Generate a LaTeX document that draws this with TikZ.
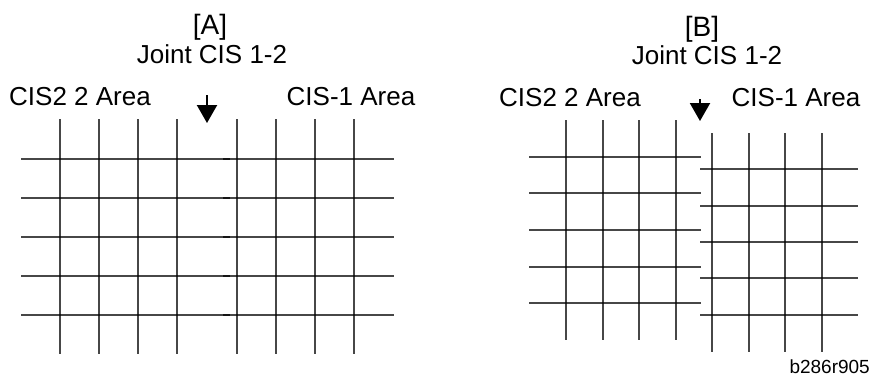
\documentclass[tikz,border=0pt]{standalone}
\usepackage{fontspec}
\setmainfont{Liberation Sans}
\usetikzlibrary{arrows.meta,positioning}

\begin{document}
\begin{tikzpicture}[
    x=1pt, y=-1pt,
    lbl/.style={inner sep=0pt, anchor=base, font=\fontsize{26}{29}\selectfont},
    ttl/.style={inner sep=0pt, anchor=base, font=\fontsize{28}{31}\selectfont},
    gridline/.style={draw=black, draw opacity=0.72, line width=1.7pt},
    joint/.style={-{Triangle[width=20pt, length=18pt]}, line width=2.2pt}
]
\useasboundingbox (0,0) rectangle (873,378);

% Panel A: titles
\node[ttl] (titleA) at (210,34) {[A]};
\node[lbl] (jointA) at (212,63) {Joint CIS 1-2};
\node[lbl] (leftA) at (80,105) {CIS2 2 Area};
\node[lbl] (rightA) at (351,105) {CIS-1 Area};

% Panel A: CIS2 area grid
\foreach \x in {60,99,138,177}
    \draw[gridline] (\x,119) -- (\x,354);
\foreach \y in {159,198,237,276,315}
    \draw[gridline] (21,\y) -- (230,\y);

% Panel A: CIS-1 area grid
\foreach \x in {237,276,315,354}
    \draw[gridline] (\x,119) -- (\x,354);
\foreach \y in {159,198,237,276,315}
    \draw[gridline] (223,\y) -- (394,\y);

% Panel B: titles
\node[ttl] (titleB) at (702,36) {[B]};
\node[lbl] (jointB) at (707,64) {Joint CIS 1-2};
\node[lbl] (leftB) at (570,106) {CIS2 2 Area};
\node[lbl] (rightB) at (796,106) {CIS-1 Area};

% Panel B: CIS2 area grid
\foreach \x in {566,603,639,676}
    \draw[gridline] (\x,120) -- (\x,340);
\foreach \y in {157,193,230,267,303}
    \draw[gridline] (529,\y) -- (701,\y);

% Panel B: CIS-1 area grid (shifted down)
\foreach \x in {712,749,785,822}
    \draw[gridline] (\x,133) -- (\x,352);
\foreach \y in {169,206,242,278,315}
    \draw[gridline] (700,\y) -- (858,\y);

% Joint arrows
\coordinate (jointTopA) at (207,95);
\coordinate (jointTipA) at (207,123);
\coordinate (jointTopB) at (700,99);
\coordinate (jointTipB) at (700,121);
\draw[joint] (jointTopA) -- (jointTipA);
\draw[joint] (jointTopB) -- (jointTipB);

% Figure code
\node[inner sep=0pt, anchor=base east, font=\fontsize{19}{22}\selectfont] (figcode) at (870,373) {b286r905};

\end{tikzpicture}
\end{document}
